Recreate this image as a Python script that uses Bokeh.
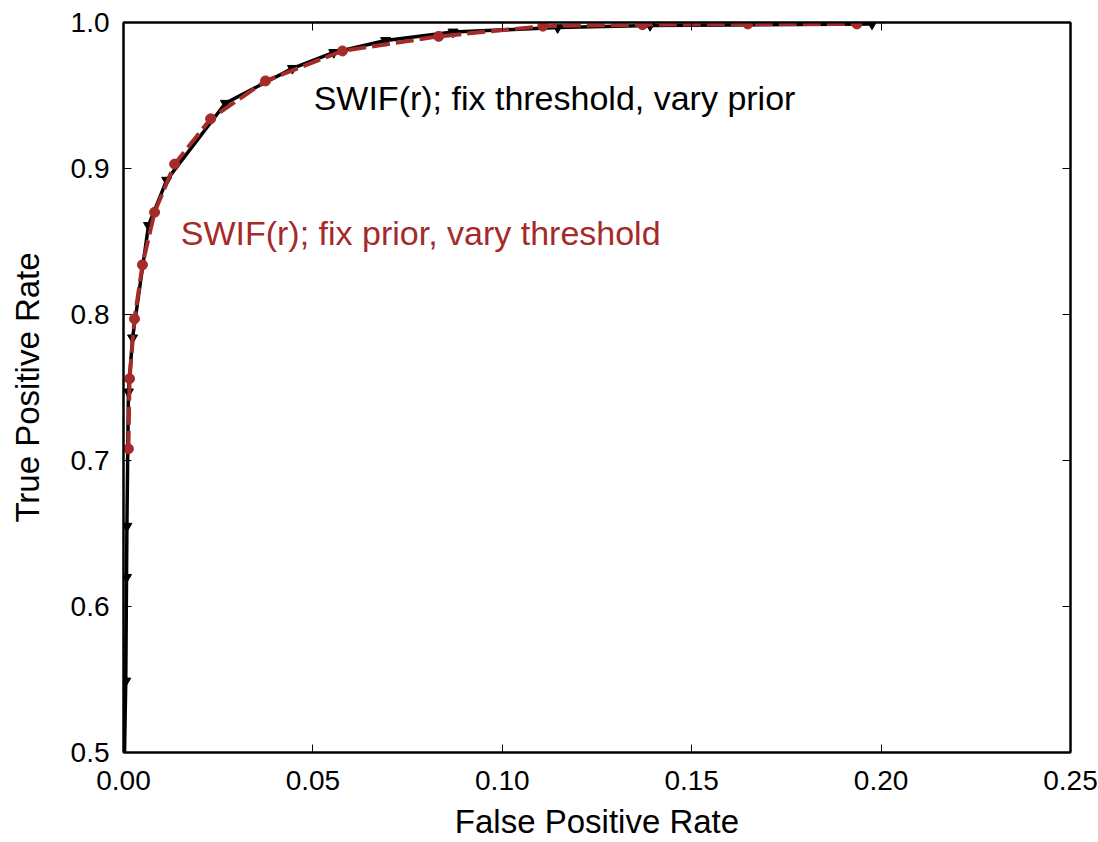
from bokeh.plotting import figure
from bokeh.models import Range1d, LinearAxis, FixedTicker, Label, CustomJSTickFormatter
from bokeh.embed import file_html
from bokeh.resources import INLINE

# Black curve: fix threshold, vary prior
prior_fpr = [0.0, 0.0006, 0.0008, 0.0009, 0.0013, 0.0024, 0.0066, 0.0114,
             0.0269, 0.0446, 0.0555, 0.0692, 0.0870, 0.1146, 0.1390, 0.1976]
prior_tpr = [0.46, 0.549, 0.620, 0.655, 0.747, 0.784, 0.861, 0.892,
             0.9447, 0.9686, 0.9795, 0.9877, 0.9935, 0.9965, 0.9980, 0.9990]

# Red curve: fix prior, vary threshold
thr_fpr = [0.0013, 0.0016, 0.0029, 0.0050, 0.0082, 0.0135, 0.0230, 0.0375,
           0.0578, 0.0832, 0.1107, 0.1370, 0.1648, 0.1936]
thr_tpr = [0.708, 0.756, 0.797, 0.834, 0.870, 0.903, 0.934, 0.960,
           0.9805, 0.9905, 0.9975, 0.9985, 0.9990, 0.9990]

x_ticks = [0.00, 0.05, 0.10, 0.15, 0.20, 0.25]
y_ticks = [0.5, 0.6, 0.7, 0.8, 0.9, 1.0]

FONT = "Liberation Sans"
RED = "#a52a2a"

p = figure(width=1098, height=842, output_backend="svg", toolbar_location=None,
           x_range=Range1d(0, 0.25), y_range=Range1d(0.5, 1.0),
           min_border_left=123, min_border_right=28, min_border_top=22,
           min_border_bottom=88)
p.grid.visible = False
p.outline_line_color = "black"
p.outline_line_width = 2
p.background_fill_color = "white"
p.border_fill_color = "white"

for ax in (p.xaxis[0], p.yaxis[0]):
    ax.major_tick_in = 8
    ax.major_tick_out = 0
    ax.minor_tick_line_color = None
    ax.axis_line_width = 2
    ax.major_tick_line_width = 1
    ax.major_label_text_font = FONT
    ax.major_label_text_font_size = "28px"
    ax.major_label_text_color = "black"
    ax.axis_label_text_font = FONT
    ax.axis_label_text_font_size = "33px"
    ax.axis_label_text_font_style = "normal"
    ax.axis_label_text_color = "black"

p.xaxis[0].ticker = FixedTicker(ticks=x_ticks)
p.yaxis[0].ticker = FixedTicker(ticks=y_ticks)
p.xaxis[0].formatter = CustomJSTickFormatter(code="return tick.toFixed(2);")
p.yaxis[0].formatter = CustomJSTickFormatter(code="return tick.toFixed(1);")
p.xaxis[0].axis_label = "False Positive Rate"
p.yaxis[0].axis_label = "True Positive Rate"
p.xaxis[0].major_label_standoff = 18
p.yaxis[0].major_label_standoff = 14
p.xaxis[0].axis_label_standoff = 10
p.yaxis[0].axis_label_standoff = 22

blank = CustomJSTickFormatter(code="return '';")
top = LinearAxis(ticker=FixedTicker(ticks=x_ticks), major_tick_in=8, major_tick_out=0,
                 minor_tick_line_color=None, formatter=blank,
                 major_label_text_font_size="1px",
                 axis_line_width=2, major_label_standoff=0)
right = LinearAxis(ticker=FixedTicker(ticks=y_ticks), major_tick_in=8, major_tick_out=0,
                   minor_tick_line_color=None, formatter=CustomJSTickFormatter(code="return '';"),
                   major_label_text_font_size="1px",
                   axis_line_width=2, major_label_standoff=0)
p.add_layout(top, "above")
p.add_layout(right, "right")

p.line(prior_fpr, prior_tpr, line_color="black", line_width=3.5)
p.scatter(prior_fpr, prior_tpr, marker="inverted_triangle", size=10,
          fill_color="black", line_color="black")

p.line(thr_fpr, thr_tpr, line_color=RED, line_width=4, line_dash="18 6")
p.scatter(thr_fpr, thr_tpr, marker="circle", size=10,
          fill_color=RED, line_color=RED)

p.add_layout(Label(x=0.0502, y=0.948, text="SWIF(r); fix threshold, vary prior",
                   text_font=FONT, text_font_size="34px", text_color="black",
                   text_baseline="middle", text_align="left"))
p.add_layout(Label(x=0.0151, y=0.856, text="SWIF(r); fix prior, vary threshold",
                   text_font=FONT, text_font_size="34px", text_color=RED,
                   text_baseline="middle", text_align="left"))

open("out.html", "w").write(file_html(p, INLINE))
